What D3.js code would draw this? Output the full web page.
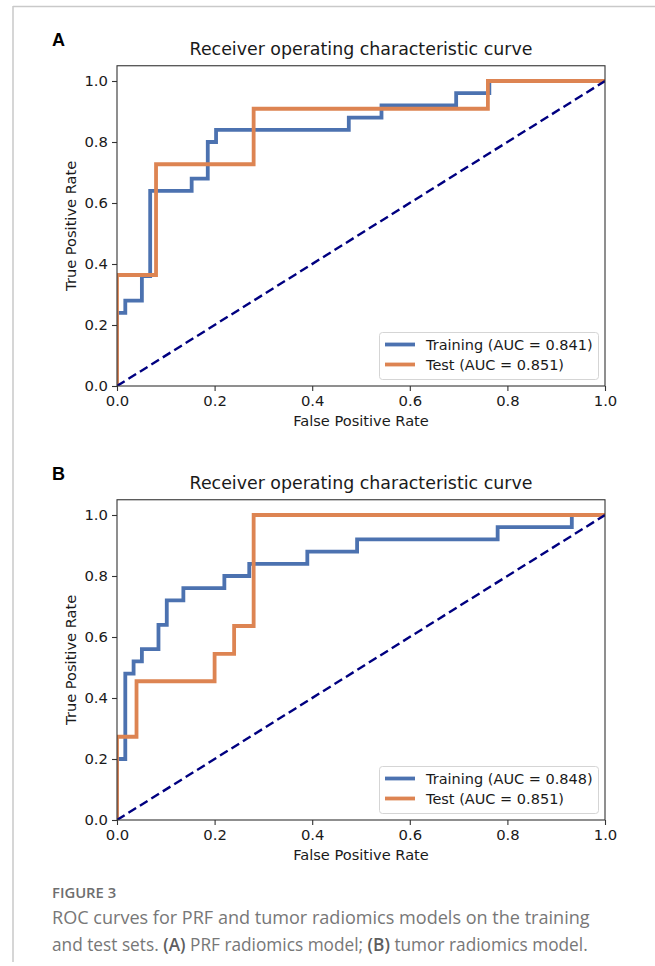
<!DOCTYPE html>
<html>
<head>
<meta charset="utf-8">
<script src="https://cdn.jsdelivr.net/npm/d3@7"></script>
<style>
  body { margin: 0; background: #fff; }
  svg text { font-family: "DejaVu Sans", sans-serif; fill: #1a1a1a; }
  .caption text { font-family: "Open Sans", Lato, sans-serif; fill: #777; }
</style>
</head>
<body>
<svg id="svg" width="655" height="966"></svg>
<script>
// Panel A - PRF radiomics model (points where the curve steps up)
const fprTrainA = [0, 0, 0.017, 0.051, 0.068, 0.153, 0.186, 0.203, 0.475, 0.542, 0.695, 0.763, 1];
const tprTrainA = [0, 0.24, 0.28, 0.36, 0.64, 0.68, 0.80, 0.84, 0.88, 0.92, 0.96, 1.0, 1.0];
const fprTestA = [0, 0, 0.08, 0.28, 0.76, 1];
const tprTestA = [0, 0.364, 0.727, 0.909, 1.0, 1.0];

// Panel B - tumor radiomics model
const fprTrainB = [0, 0, 0.017, 0.034, 0.051, 0.085, 0.102, 0.136, 0.220, 0.271, 0.390, 0.492, 0.780, 0.932, 1];
const tprTrainB = [0, 0.20, 0.48, 0.52, 0.56, 0.64, 0.72, 0.76, 0.80, 0.84, 0.88, 0.92, 0.96, 1.0, 1.0];
const fprTestB = [0, 0, 0.04, 0.20, 0.24, 0.28, 1];
const tprTestB = [0, 0.273, 0.455, 0.545, 0.636, 1.0, 1.0];

// chance line
const chance = [0, 1];

const ticks = [0, 0.2, 0.4, 0.6, 0.8, 1.0];
const legendA = ["Training (AUC = 0.841)", "Test (AUC = 0.851)"];
const legendB = ["Training (AUC = 0.848)", "Test (AUC = 0.851)"];

const colors = {
  train: "#4C72B0",
  test: "#DD8452",
  chance: "navy"
}

const attr = {
  left: 117,
  right: 605,
  unit: 305
}

const svg = d3.select("svg#svg");

// figure frame (grey rule on top and left)
svg.append("line")
  .attr("x1", 13).attr("x2", 655).attr("y1", 6.5).attr("y2", 6.5)
  .style("stroke", "#c9c9c9").style("stroke-width", 1.5);
svg.append("line")
  .attr("x1", 13).attr("x2", 13).attr("y1", 6).attr("y2", 962)
  .style("stroke", "#c9c9c9").style("stroke-width", 1.5);

var translate = function(a, b) {
  return "translate(" + a + ", " + b + ")";
}

// scale a text's font so that it spans the given width
var fitWidth = function(sel, size, width) {
  let s = size * width / sel.node().getComputedTextLength();
  sel.style("font-size", s + "px");
}

var drawPanel = function(id, letter, bottom, series, labels) {
  let g = svg.append("g").attr("id", "panel" + id);

  let x = d3.scaleLinear().domain([0, 1]).range([attr.left, attr.right]);
  let y = d3.scaleLinear().domain([0, 1.05]).range([bottom, bottom - 1.05 * attr.unit]);

  // panel letter
  g.append("text")
    .attr("x", 52)
    .attr("y", y(1.05) - 20)
    .style("font-family", "'Liberation Sans', Arial, sans-serif")
    .style("font-weight", "bold")
    .style("font-size", "18px")
    .style("fill", "#000")
    .text(letter);

  // title
  g.append("text")
    .attr("x", (attr.left + attr.right) / 2)
    .attr("y", y(1.05) - 11)
    .attr("text-anchor", "middle")
    .style("font-size", "17.4px")
    .text("Receiver operating characteristic curve");

  // clip to the axes box
  g.append("clipPath").attr("id", "clip" + id)
    .append("rect")
    .attr("x", x(0)).attr("y", y(1.05))
    .attr("width", x(1) - x(0)).attr("height", y(0) - y(1.05));

  let line = d3.line()
    .x(d => x(d[0]))
    .y(d => y(d[1]))
    .curve(d3.curveStepAfter);

  let plot = g.append("g").attr("clip-path", "url(#clip" + id + ")");

  series.forEach(function(s) {
    plot.append("path")
      .datum(d3.zip(s.fpr, s.tpr))
      .attr("d", line)
      .style("fill", "none")
      .style("stroke", s.color)
      .style("stroke-width", 3.8)
      .style("stroke-linejoin", "miter")
      .style("stroke-linecap", "square");
  });

  plot.append("path")
    .datum(d3.zip(chance, chance))
    .attr("d", d3.line().x(d => x(d[0])).y(d => y(d[1])))
    .style("fill", "none")
    .style("stroke", colors.chance)
    .style("stroke-width", 2.4)
    .style("stroke-dasharray", "9,4.5");

  // axes
  let xAxis = d3.axisBottom(x).tickValues(ticks).tickFormat(d3.format(".1f")).tickSize(5).tickPadding(4);
  let yAxis = d3.axisLeft(y).tickValues(ticks).tickFormat(d3.format(".1f")).tickSize(5).tickPadding(4);

  let gx = g.append("g").attr("transform", translate(0, y(0))).call(xAxis);
  let gy = g.append("g").attr("transform", translate(x(0), 0)).call(yAxis);

  [gx, gy].forEach(function(a) {
    a.select(".domain").remove();
    a.selectAll("line").style("stroke", "#333").style("stroke-width", 1.1);
    a.selectAll("text").style("font-size", "14.8px").style("font-family", "'DejaVu Sans', sans-serif").style("fill", "#1a1a1a");
  });

  // frame
  g.append("rect")
    .attr("x", x(0)).attr("y", y(1.05))
    .attr("width", x(1) - x(0)).attr("height", y(0) - y(1.05))
    .style("fill", "none")
    .style("stroke", "#333")
    .style("stroke-width", 1.1);

  // axis labels
  g.append("text")
    .attr("x", (attr.left + attr.right) / 2)
    .attr("y", y(0) + 40)
    .attr("text-anchor", "middle")
    .style("font-size", "14.6px")
    .text("False Positive Rate");

  g.append("text")
    .attr("transform", translate(76, (y(0) + y(1.05)) / 2) + " rotate(-90)")
    .attr("text-anchor", "middle")
    .style("font-size", "14.6px")
    .text("True Positive Rate");

  // legend
  let lx = x(1) - 226, ly = y(0) - 54;
  let legend = g.append("g").attr("transform", translate(lx, ly));

  legend.append("rect")
    .attr("x", 0.5).attr("y", 0.5)
    .attr("width", 219).attr("height", 47)
    .attr("rx", 3)
    .style("fill", "#fff")
    .style("fill-opacity", 0.8)
    .style("stroke", "#d5d5d5")
    .style("stroke-width", 1);

  let rows = legend.selectAll("g.row")
    .data(series)
    .enter()
    .append("g")
    .attr("class", "row")
    .attr("transform", (d, i) => translate(0, 12.5 + i * 20));

  rows.append("line")
    .attr("x1", 6).attr("x2", 36)
    .style("stroke", d => d.color)
    .style("stroke-width", 3.8);

  rows.append("text")
    .attr("x", 47)
    .attr("y", 5)
    .style("font-size", "14.5px")
    .text((d, i) => labels[i]);
}

drawPanel("A", "A", 386, [
  {fpr: fprTrainA, tpr: tprTrainA, color: colors.train},
  {fpr: fprTestA, tpr: tprTestA, color: colors.test}
], legendA);

drawPanel("B", "B", 820, [
  {fpr: fprTrainB, tpr: tprTrainB, color: colors.train},
  {fpr: fprTestB, tpr: tprTestB, color: colors.test}
], legendB);

// caption
const caption = svg.append("g").attr("class", "caption");

caption.append("text")
  .attr("x", 52).attr("y", 898)
  .style("font-size", "14.8px")
  .style("font-weight", "600")
  .style("fill", "#6e6e6e")
  .text("FIGURE 3");

let line1 = caption.append("text")
  .attr("x", 52).attr("y", 924)
  .style("font-size", "17.5px")
  .text("ROC curves for PRF and tumor radiomics models on the training");
fitWidth(line1, 17.5, 538);

let line2 = caption.append("text")
  .attr("x", 52).attr("y", 951)
  .style("font-size", "17.5px");
line2.append("tspan").text("and test sets. ");
line2.append("tspan").style("font-weight", "600").style("fill", "#5e5e5e").text("(A)");
line2.append("tspan").text(" PRF radiomics model; ");
line2.append("tspan").style("font-weight", "600").style("fill", "#5e5e5e").text("(B)");
line2.append("tspan").text(" tumor radiomics model.");
fitWidth(line2, 17.5, 536);
</script>
</body>
</html>
